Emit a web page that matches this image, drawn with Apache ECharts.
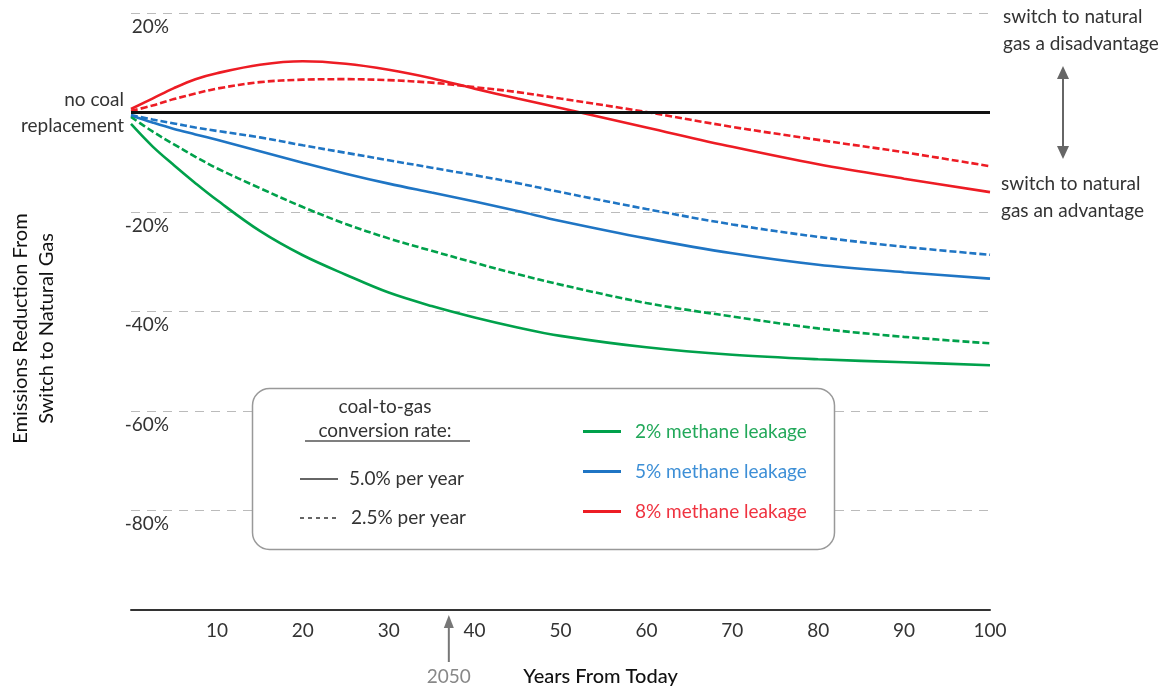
<!DOCTYPE html>
<html>
<head>
<meta charset="utf-8">
<title>Emissions reduction from switch to natural gas</title>
<script src="https://cdn.jsdelivr.net/npm/echarts@6/dist/echarts.min.js"></script>
<style>
  html, body { margin: 0; padding: 0; background: #fff; }
  #chart { width: 1171px; height: 692px; }
</style>
</head>
<body>
<div id="chart"></div>
<script>
// years from today (x values shared by every curve)
var years = [0, 2.5, 5, 7.5, 10, 15, 20, 25, 30, 35, 40, 45, 50, 60, 70, 80, 90, 100];

// emissions reduction (%) - 5.0% per year conversion (solid)
var leak2Fast = [-2.3, -6.8, -10.6, -14.2, -17.6, -23.8, -28.7, -32.6, -36.2, -38.9, -41.2, -43.2, -44.9, -47.2, -48.7, -49.6, -50.2, -50.8];
var leak5Fast = [-0.6, -2.0, -3.3, -4.4, -5.5, -7.8, -10.1, -12.3, -14.3, -16.1, -17.9, -19.8, -21.8, -25.3, -28.3, -30.6, -32.1, -33.4];
var leak8Fast = [0.7, 2.8, 4.9, 6.7, 7.9, 9.6, 10.3, 9.8, 8.6, 6.9, 4.8, 2.8, 0.9, -3.0, -6.9, -10.4, -13.3, -16.0];

// emissions reduction (%) - 2.5% per year conversion (dashed)
var leak2Slow = [-0.9, -3.8, -6.4, -8.9, -11.2, -15.2, -19.0, -22.4, -25.3, -27.8, -30.2, -32.5, -34.6, -38.3, -41.0, -43.4, -45.1, -46.4];
var leak5Slow = [-0.5, -1.4, -2.2, -3.0, -3.7, -5.0, -6.6, -8.1, -9.6, -11.1, -12.6, -14.2, -16.0, -19.4, -22.5, -25.0, -27.0, -28.6];
var leak8Slow = [0.3, 1.4, 2.7, 3.8, 4.8, 6.1, 6.6, 6.7, 6.5, 6.0, 5.1, 4.1, 2.8, 0.1, -2.9, -5.5, -8.0, -10.8];

var yLabelled = [20, -20, -40, -60, -80];
var zeroLevel = 0;
var year2050 = 37;

var font = 'Lato, "Open Sans", "DejaVu Sans", sans-serif';
var green = '#00a14b', blue = '#1f75c4', red = '#ed1c24';

function pairs(vals) {
  return years.map(function (x, i) { return [x, vals[i]]; });
}

function curve(name, color, vals, dashed) {
  return {
    name: name,
    type: 'line',
    data: pairs(vals),
    smooth: 0.35,
    showSymbol: false,
    symbol: 'none',
    silent: true,
    z: 3,
    itemStyle: { color: color },
    lineStyle: { color: color, width: 2.6, type: dashed ? [7, 3] : 'solid' }
  };
}

var myChart = echarts.init(document.getElementById('chart'));

var option = {
  animation: false,
  backgroundColor: '#fff',
  textStyle: { fontFamily: font },
  grid: { left: 127, right: 181, top: 13, bottom: 80, containLabel: false },
  legend: {
    orient: 'vertical',
    left: 578,
    top: 417,
    itemGap: 21,
    itemWidth: 38,
    itemHeight: 3,
    icon: 'rect',
    selectedMode: false,
    textStyle: { fontSize: 19, fontFamily: font, lineHeight: 19, padding: [0, 0, 0, 9] },
    data: [
      { name: '2% methane leakage', textStyle: { color: '#22a85a' } },
      { name: '5% methane leakage', textStyle: { color: '#3d8fd6' } },
      { name: '8% methane leakage', textStyle: { color: '#ef3340' } }
    ]
  },
  xAxis: {
    type: 'value',
    min: 0,
    max: 100,
    interval: 10,
    axisLine: { show: true, onZero: false, lineStyle: { color: '#333', width: 2 } },
    axisTick: { show: false },
    splitLine: { show: false },
    axisLabel: {
      margin: 11,
      fontSize: 19,
      color: '#333',
      fontFamily: font,
      formatter: function (v) { return v === 0 ? '' : String(v); }
    },
    name: 'Years From Today',
    nameLocation: 'middle',
    nameGap: 57,
    nameTextStyle: { fontSize: 20, color: '#111', fontFamily: font, fontWeight: 500, padding: [0, 0, 0, 80] }
  },
  yAxis: {
    type: 'value',
    min: -100,
    max: 20,
    interval: 20,
    axisLine: { show: false },
    axisTick: { show: false },
    splitLine: { show: true, lineStyle: { color: '#bbb', width: 1, type: [9, 7] } },
    axisLabel: {
      inside: true,
      margin: 38,
      align: 'right',
      verticalAlign: 'top',
      padding: [4, 0, 0, 0],
      fontSize: 19,
      color: '#333',
      fontFamily: font,
      formatter: function (v) { return yLabelled.indexOf(v) >= 0 ? v + '%' : ''; }
    },
    name: 'Emissions Reduction From\nSwitch to Natural Gas',
    nameLocation: 'middle',
    nameGap: 71,
    nameRotate: 90,
    nameTextStyle: { fontSize: 20, color: '#111', fontFamily: font, lineHeight: 26, align: 'center', padding: [0, 34, 0, 0] }
  },
  series: [
    {
      name: 'no coal replacement',
      type: 'line',
      data: [],
      silent: true,
      z: 2,
      markLine: {
        silent: true,
        symbol: 'none',
        data: [{ yAxis: zeroLevel }],
        lineStyle: { color: '#111', width: 3, type: 'solid' },
        label: {
          position: 'start',
          distance: 7,
          formatter: 'no coal\nreplacement',
          fontSize: 19,
          lineHeight: 26,
          color: '#333',
          fontFamily: font
        }
      }
    },
    curve('2% methane leakage', green, leak2Fast, false),
    curve('5% methane leakage', blue, leak5Fast, false),
    curve('8% methane leakage', red, leak8Fast, false),
    curve('2% methane leakage', green, leak2Slow, true),
    curve('5% methane leakage', blue, leak5Slow, true),
    curve('8% methane leakage', red, leak8Slow, true)
  ]
};

myChart.setOption(option);

// annotations: legend box, conversion-rate key, right-side notes, 2050 marker
var ax = myChart.convertToPixel({ xAxisIndex: 0 }, year2050);
var axisY = myChart.convertToPixel({ yAxisIndex: 0 }, -100);
var txt = { fontSize: 19, fontFamily: font, fill: '#333' };

function text(x, y, str, align, extra) {
  var style = Object.assign({ x: x, y: y, text: str, align: align || 'left', verticalAlign: 'middle' }, txt, extra || {});
  return { type: 'text', silent: true, z: 20, style: style };
}

myChart.setOption({
  graphic: [
    { type: 'rect', z: 1, silent: true,
      shape: { x: 252.5, y: 388.5, width: 582, height: 161, r: 17 },
      style: { fill: '#fff', stroke: '#999', lineWidth: 1.5 } },
    text(385, 407, 'coal-to-gas', 'center'),
    text(385, 431, 'conversion rate:', 'center'),
    { type: 'line', z: 20, silent: true, shape: { x1: 305, y1: 441, x2: 470, y2: 441 },
      style: { stroke: '#555', lineWidth: 1.5 } },
    { type: 'line', z: 20, silent: true, shape: { x1: 300, y1: 479, x2: 338, y2: 479 },
      style: { stroke: '#333', lineWidth: 1.5 } },
    text(349, 479, '5.0% per year'),
    { type: 'line', z: 20, silent: true, shape: { x1: 300, y1: 518, x2: 338, y2: 518 },
      style: { stroke: '#333', lineWidth: 1.5, lineDash: [4, 4] } },
    text(351, 518, '2.5% per year'),

    text(1003, 30, 'switch to natural\ngas a disadvantage', 'left', { lineHeight: 27 }),
    text(1001, 197, 'switch to natural\ngas an advantage', 'left', { lineHeight: 27 }),
    { type: 'line', z: 20, silent: true, shape: { x1: 1063, y1: 76, x2: 1063, y2: 150 },
      style: { stroke: '#666', lineWidth: 2 } },
    { type: 'polygon', z: 20, silent: true, shape: { points: [[1063, 66], [1057, 79], [1069, 79]] },
      style: { fill: '#666' } },
    { type: 'polygon', z: 20, silent: true, shape: { points: [[1063, 159], [1057, 146], [1069, 146]] },
      style: { fill: '#666' } },

    { type: 'line', z: 20, silent: true, shape: { x1: ax, y1: axisY + 15, x2: ax, y2: axisY + 52 },
      style: { stroke: '#777', lineWidth: 2 } },
    { type: 'polygon', z: 20, silent: true,
      shape: { points: [[ax, axisY + 5], [ax - 5, axisY + 18], [ax + 5, axisY + 18]] },
      style: { fill: '#777' } },
    text(ax, axisY + 67, '2050', 'center', { fill: '#888' })
  ]
});
</script>
</body>
</html>
